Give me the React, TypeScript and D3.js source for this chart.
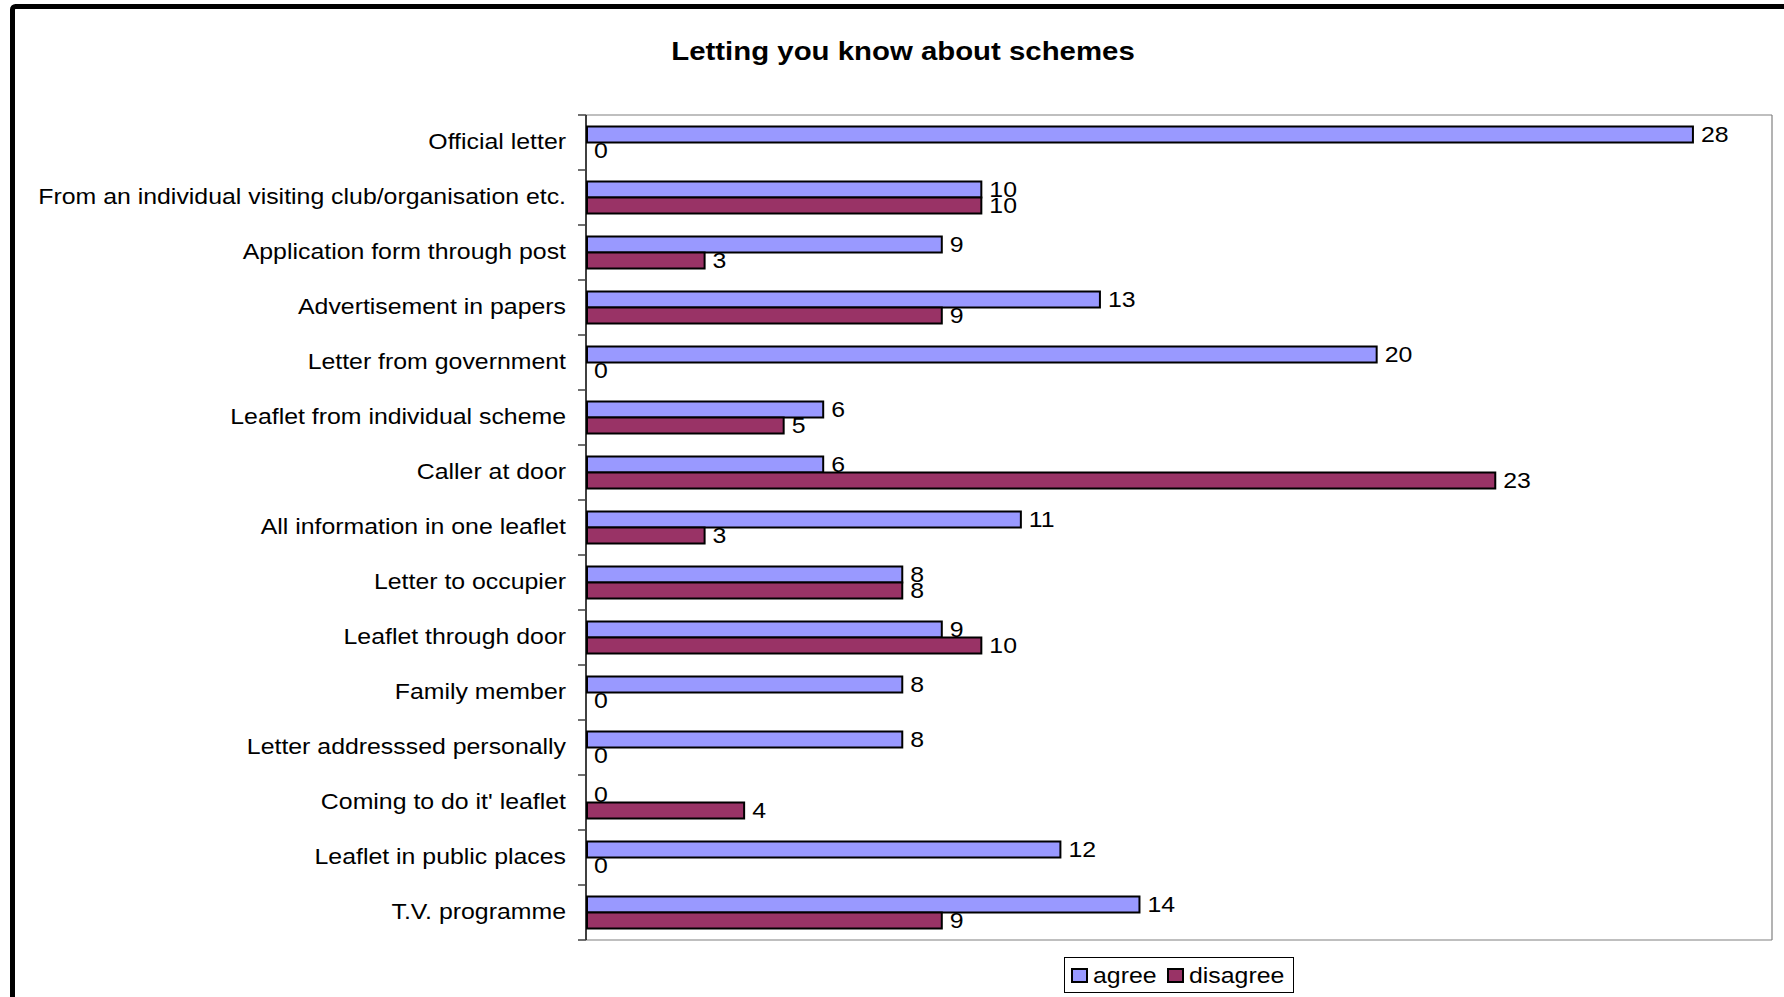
import React from "react";
import * as d3 from "d3";

const categories = [
  "Official letter",
  "From an individual visiting club/organisation etc.",
  "Application form through post",
  "Advertisement in papers",
  "Letter from government",
  "Leaflet from individual scheme",
  "Caller at door",
  "All information in one leaflet",
  "Letter to occupier",
  "Leaflet through door",
  "Family member",
  "Letter addresssed personally",
  "Coming to do it' leaflet",
  "Leaflet in public places",
  "T.V. programme",
];
const agree = [28, 10, 9, 13, 20, 6, 6, 11, 8, 9, 8, 8, 0, 12, 14];
const disagree = [0, 10, 3, 9, 0, 5, 23, 3, 8, 10, 0, 0, 4, 0, 9];
const seriesNames = ["agree", "disagree"];
const seriesColors = ["#9999FF", "#993366"];
const title = "Letting you know about schemes";

const W = 1784;
const H = 997;
const SX = 1.13;
const FONT = "'Liberation Sans', Arial, sans-serif";
const plot = { left: 586, right: 1772, top: 115, bottom: 940 };

function SText(props: any) {
  const { x, y, children, anchor = "start", size = 22, weight = "normal" } = props;
  return (
    <text
      transform={`translate(${x},${y}) scale(${SX},1)`}
      textAnchor={anchor}
      fontSize={size}
      fontWeight={weight}
      fontFamily={FONT}
      fill="#000"
    >
      {children}
    </text>
  );
}

export default function App() {
  const x = d3.scaleLinear().domain([0, 30]).range([plot.left, plot.right]);
  const y = d3.scaleBand<string>().domain(categories).range([plot.top, plot.bottom]).padding(0);
  const bw = y.bandwidth();
  const barH = 16;
  const series = [agree, disagree];

  return (
    <svg
      width={W}
      height={H}
      style={{ position: "absolute", left: 0, top: 0, display: "block", background: "#fff" }}
    >
      <rect x={0} y={0} width={W} height={H} fill="#fff" />
      {/* outer frame */}
      <rect x={12.5} y={6.5} width={W + 20} height={H + 20} fill="none" stroke="#000" strokeWidth={5} rx={3} />

      <SText x={903} y={60} anchor="middle" size={26} weight="bold">
        {title}
      </SText>

      {/* plot border */}
      <line x1={plot.left} x2={plot.right} y1={plot.top} y2={plot.top} stroke="#808080" strokeWidth={1.2} />
      <line x1={plot.right} x2={plot.right} y1={plot.top} y2={plot.bottom} stroke="#808080" strokeWidth={1.2} />
      <line x1={plot.left} x2={plot.right} y1={plot.bottom} y2={plot.bottom} stroke="#808080" strokeWidth={1.2} />

      {/* bars */}
      {categories.map((c, i) => {
        const y0 = (y(c) as number) + (bw - 2 * barH) / 2;
        return (
          <g key={c}>
            {series.map((s, k) => {
              const v = s[i];
              const yy = y0 + k * barH;
              return (
                <g key={k}>
                  {v > 0 && (
                    <rect
                      x={x(0) + 1}
                      y={yy}
                      width={x(v) - x(0) - 1}
                      height={barH}
                      fill={seriesColors[k]}
                      stroke="#000"
                      strokeWidth={2}
                    />
                  )}
                  <SText x={x(v) + 8} y={yy + barH / 2 + 7} size={22}>
                    {String(v)}
                  </SText>
                </g>
              );
            })}
          </g>
        );
      })}

      {/* axis */}
      <line x1={plot.left} x2={plot.left} y1={plot.top} y2={plot.bottom} stroke="#000" strokeWidth={1.5} />
      {d3.range(categories.length + 1).map((i) => {
        const yy = plot.top + i * bw;
        return <line key={i} x1={plot.left - 8} x2={plot.left} y1={yy} y2={yy} stroke="#404040" strokeWidth={1.5} />;
      })}
      {categories.map((c) => (
        <SText key={c} x={566} y={(y(c) as number) + bw / 2 + 6} anchor="end" size={22}>
          {c}
        </SText>
      ))}

      {/* legend */}
      <rect x={1064.5} y={957.5} width={229} height={35} fill="#fff" stroke="#000" strokeWidth={1} />
      {seriesNames.map((n, k) => {
        const lx = [1072, 1168][k];
        return (
          <g key={n}>
            <rect x={lx} y={969} width={15} height={13} fill={seriesColors[k]} stroke="#000" strokeWidth={2} />
            <SText x={lx + 21} y={983} size={22}>
              {n}
            </SText>
          </g>
        );
      })}
    </svg>
  );
}
